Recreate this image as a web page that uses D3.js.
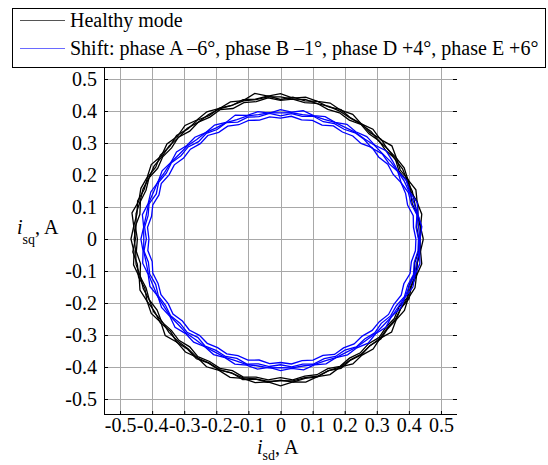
<!DOCTYPE html>
<html>
<head>
<meta charset="utf-8">
<script src="https://cdn.jsdelivr.net/npm/d3@7"></script>
<style>
  body { margin: 0; background: #fff; }
</style>
</head>
<body>
<div id="content"></div>
<script>
// angles (degrees) at which the trajectory radius was read
var angles = [0,5,10,15,20,25,30,35,40,45,50,55,60,65,70,75,80,85,
  90,95,100,105,110,115,120,125,130,135,140,145,150,155,160,165,170,175,
  180,185,190,195,200,205,210,215,220,225,230,235,240,245,250,255,260,265,
  270,275,280,285,290,295,300,305,310,315,320,325,330,335,340,345,350,355];

// healthy mode, four passes (radius |i_s| in A)
var healthy1 = [.445,.438,.447,.441,.449,.438,.445,.441,.453,.440,.448,.439,
  .450,.444,.452,.445,.450,.442,.454,.448,.462,.448,.456,.450,
  .459,.454,.463,.454,.462,.453,.465,.458,.463,.457,.470,.459,
  .466,.458,.465,.456,.466,.459,.465,.455,.469,.456,.461,.452,
  .461,.453,.460,.451,.456,.448,.459,.448,.454,.445,.451,.441,
  .451,.443,.449,.439,.452,.440,.446,.439,.446,.439,.447,.438];
var healthy2 = [.433,.440,.435,.442,.433,.439,.431,.441,.436,.442,.434,.440,
  .437,.446,.439,.445,.438,.445,.436,.449,.444,.451,.444,.451,
  .445,.453,.449,.458,.450,.457,.449,.457,.452,.461,.454,.459,
  .452,.462,.453,.458,.450,.459,.453,.457,.448,.457,.450,.457,
  .448,.452,.445,.455,.445,.450,.441,.449,.442,.446,.438,.446,
  .437,.441,.434,.442,.436,.440,.433,.442,.434,.439,.432,.438];
var healthy3 = [.431,.426,.433,.425,.431,.433,.426,.437,.429,.434,.429,.437,
  .429,.435,.431,.439,.433,.439,.433,.443,.436,.441,.434,.446,
  .440,.446,.440,.450,.443,.448,.442,.452,.446,.452,.445,.454,
  .446,.451,.443,.453,.446,.451,.444,.452,.444,.448,.440,.449,
  .442,.446,.438,.447,.438,.442,.433,.442,.435,.439,.431,.439,
  .430,.434,.427,.435,.429,.433,.426,.435,.426,.431,.425,.432];
var healthy4 = [.435,.437,.433,.433,.437,.435,.439,.435,.437,.433,.439,.438,
  .436,.440,.441,.438,.443,.439,.444,.446,.442,.447,.444,.449,
  .449,.446,.452,.449,.453,.450,.455,.452,.456,.453,.457,.452,
  .456,.453,.457,.452,.455,.451,.456,.450,.454,.452,.448,.453,
  .447,.450,.446,.449,.444,.447,.443,.445,.440,.444,.438,.441,
  .436,.439,.435,.439,.434,.437,.433,.437,.432,.436,.433,.436];

// phase shift mode, four passes
var shift1 = [.435,.442,.435,.441,.429,.433,.423,.426,.429,.415,.418,.409,
  .414,.402,.407,.399,.407,.398,.404,.395,.404,.400,.412,.402,
  .411,.406,.415,.413,.423,.417,.426,.421,.430,.427,.437,.428,
  .435,.430,.436,.427,.433,.422,.428,.421,.429,.418,.421,.411,
  .417,.409,.416,.408,.413,.403,.411,.406,.415,.407,.415,.409,
  .418,.415,.425,.419,.429,.422,.432,.429,.439,.434,.441,.435];
var shift2 = [.430,.424,.432,.422,.424,.415,.422,.412,.414,.402,.406,.405,
  .396,.398,.390,.397,.389,.393,.385,.394,.388,.394,.389,.401,
  .395,.403,.397,.407,.405,.415,.411,.419,.412,.424,.419,.425,
  .418,.427,.418,.422,.414,.420,.414,.418,.409,.412,.401,.409,
  .402,.405,.397,.405,.396,.400,.393,.401,.397,.404,.398,.405,
  .401,.412,.408,.415,.410,.419,.417,.426,.422,.429,.423,.430];
var shift3 = [.422,.416,.420,.410,.415,.415,.405,.408,.399,.404,.390,.393,
  .386,.390,.379,.384,.378,.385,.378,.383,.377,.384,.380,.389,
  .385,.395,.389,.397,.394,.404,.401,.410,.403,.412,.408,.416,
  .410,.415,.406,.412,.406,.411,.404,.409,.399,.402,.393,.398,
  .392,.396,.388,.392,.384,.391,.386,.392,.386,.392,.387,.398,
  .393,.400,.396,.404,.402,.411,.408,.415,.409,.418,.414,.422];
var shift4 = [.434,.432,.433,.431,.427,.426,.422,.420,.415,.414,.408,.407,
  .403,.402,.398,.398,.395,.396,.394,.396,.395,.398,.397,.401,
  .401,.406,.406,.411,.412,.417,.417,.422,.422,.426,.425,.428,
  .426,.428,.425,.426,.423,.423,.420,.420,.416,.416,.411,.411,
  .408,.408,.405,.406,.403,.404,.402,.404,.403,.406,.405,.409,
  .409,.413,.414,.418,.419,.423,.424,.428,.428,.432,.431,.434];

var tickVals = [-0.5,-0.4,-0.3,-0.2,-0.1,0,0.1,0.2,0.3,0.4,0.5];
var legendNames = ["Healthy mode", "Shift: phase A \u20136\u00b0, phase B \u20131\u00b0, phase D +4\u00b0, phase E +6\u00b0"];
var legendColors = ["#555555", "#6a6aff"];

var width = 548;
var height = 465;
var serif = "'Liberation Serif'";

var svg = d3.select("#content")
  .append("svg")
  .attr("width", width)
  .attr("height", height);

var x = d3.scaleLinear().domain([-0.55, 0.55]).range([104, 457]);
var y = d3.scaleLinear().domain([-0.55, 0.55]).range([415, 63]);

// grid
svg.append("g").selectAll("line")
  .data(tickVals).enter().append("line")
  .attr("x1", function(d) { return Math.round(x(d)) + 0.5; })
  .attr("x2", function(d) { return Math.round(x(d)) + 0.5; })
  .attr("y1", y(0.55)).attr("y2", y(-0.55))
  .attr("stroke", "#a8a8a8").attr("stroke-width", 1);
svg.append("g").selectAll("line")
  .data(tickVals).enter().append("line")
  .attr("y1", function(d) { return Math.round(y(d)) + 0.5; })
  .attr("y2", function(d) { return Math.round(y(d)) + 0.5; })
  .attr("x1", x(-0.55)).attr("x2", x(0.55))
  .attr("stroke", "#a8a8a8").attr("stroke-width", 1);

// trajectories
function loop(radii) {
  var pts = radii.map(function(r, i) {
    var a = angles[i] * Math.PI / 180;
    return [r * Math.cos(a), r * Math.sin(a)];
  });
  pts.push(pts[0]);
  return pts;
}
var line = d3.line()
  .x(function(d) { return x(d[0]); })
  .y(function(d) { return y(d[1]); });

var series = [
  { color: "#000000", loops: [healthy1, healthy2, healthy3, healthy4] },
  { color: "#0000ff", loops: [shift1, shift2, shift3, shift4] }
];
series.forEach(function(s) {
  svg.append("g").selectAll("path")
    .data(s.loops).enter().append("path")
    .attr("d", function(d) { return line(loop(d)); })
    .attr("fill", "none")
    .attr("stroke", s.color)
    .attr("stroke-width", 1.3);
});

// axes
var fmt = function(d) { return String(d); };
var xAxis = svg.append("g")
  .attr("transform", "translate(0,415)")
  .call(d3.axisBottom(x).tickValues(tickVals).tickSize(-4).tickPadding(3).tickFormat(fmt));
var yAxis = svg.append("g")
  .attr("transform", "translate(104,0)")
  .call(d3.axisLeft(y).tickValues(tickVals).tickSize(-4).tickPadding(7).tickFormat(fmt));
var rAxis = svg.append("g")
  .attr("transform", "translate(457,0)")
  .call(d3.axisRight(y).tickValues(tickVals).tickSize(-4).tickFormat(""));

[xAxis, yAxis, rAxis].forEach(function(g) {
  g.select(".domain").remove();
  g.selectAll("line").attr("stroke", "#000");
  g.selectAll("text")
    .style("font-family", serif)
    .style("font-size", "20px")
    .attr("fill", "#000");
});

svg.append("line")
  .attr("x1", 104.5).attr("x2", 104.5).attr("y1", 63).attr("y2", 415)
  .attr("stroke", "#000");
svg.append("line")
  .attr("x1", 104).attr("x2", 457).attr("y1", 414.5).attr("y2", 414.5)
  .attr("stroke", "#000");

// axis labels
var xl = svg.append("text")
  .attr("x", 257).attr("y", 454)
  .style("font-family", serif)
  .style("font-size", "20px");
xl.append("tspan").style("font-style", "italic").text("i");
xl.append("tspan").attr("dy", 6).style("font-size", "14px").text("sd");
xl.append("tspan").attr("dy", -6).text(", A");

var yl = svg.append("text")
  .attr("x", 17).attr("y", 234)
  .style("font-family", serif)
  .style("font-size", "20px");
yl.append("tspan").style("font-style", "italic").text("i");
yl.append("tspan").attr("dy", 10).style("font-size", "14px").text("sq");
yl.append("tspan").attr("dy", -10).text(", A");

// legend
var legend = svg.append("g");
legend.append("rect")
  .attr("x", 12.5).attr("y", 8.5)
  .attr("width", 533).attr("height", 59)
  .attr("fill", "#fff").attr("stroke", "#000");
var items = legend.selectAll("g.item")
  .data(legendNames).enter().append("g")
  .attr("class", "item")
  .attr("transform", function(d, i) { return "translate(0," + (20.5 + i * 28) + ")"; });
items.append("line")
  .attr("x1", 20).attr("x2", 65)
  .attr("stroke", function(d, i) { return legendColors[i]; })
  .attr("stroke-width", 1.2);
items.append("text")
  .attr("x", 70).attr("y", 6)
  .style("font-family", serif)
  .style("font-size", "20px")
  .text(function(d) { return d; });
</script>
</body>
</html>
